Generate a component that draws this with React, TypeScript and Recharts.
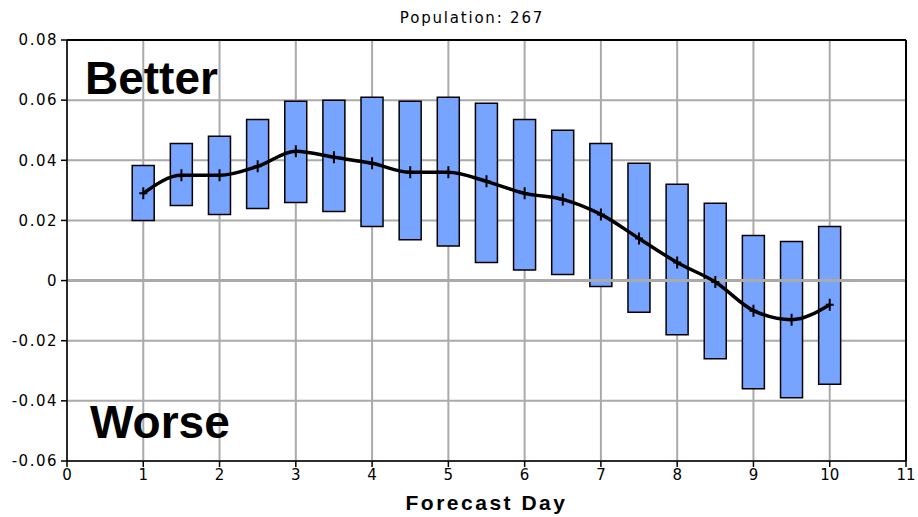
import React from 'react';
import {
  ComposedChart,
  Bar,
  Line,
  XAxis,
  YAxis,
  CartesianGrid,
  ReferenceLine,
  Customized,
} from 'recharts';

const days = [1, 1.5, 2, 2.5, 3, 3.5, 4, 4.5, 5, 5.5, 6, 6.5, 7, 7.5, 8, 8.5, 9, 9.5, 10];
const lows = [0.02, 0.025, 0.022, 0.024, 0.026, 0.023, 0.018, 0.0136, 0.0115, 0.006, 0.0035, 0.002, -0.002, -0.0105, -0.018, -0.026, -0.036, -0.039, -0.0345];
const highs = [0.0383, 0.0456, 0.048, 0.0536, 0.0596, 0.06, 0.061, 0.0596, 0.061, 0.059, 0.0536, 0.05, 0.0456, 0.039, 0.032, 0.0257, 0.015, 0.013, 0.018];
const means = [0.029, 0.035, 0.035, 0.038, 0.043, 0.041, 0.039, 0.036, 0.036, 0.033, 0.029, 0.027, 0.022, 0.014, 0.006, -0.0005, -0.01, -0.013, -0.008];

const xTicks = [0, 1, 2, 3, 4, 5, 6, 7, 8, 9, 10, 11];
const yTicks = [-0.06, -0.04, -0.02, 0, 0.02, 0.04, 0.06, 0.08];

const data = days.map((d, i) => ({
  day: d,
  range: [lows[i], highs[i]],
  mean: means[i],
}));

const font = '"Liberation Sans", Arial, sans-serif';
const tickFont = '"DejaVu Sans", sans-serif';

function CrossDot(props: any) {
  const { cx, cy } = props;
  if (cx == null || cy == null) return null;
  return (
    <path
      d={`M${cx - 4},${cy} H${cx + 4} M${cx},${cy - 6} V${cy + 6}`}
      stroke="#000"
      strokeWidth={2}
    />
  );
}

function Labels() {
  return (
    <g>
      <text x={472} y={23} textAnchor="middle" fontSize={15} fontFamily={tickFont} letterSpacing={1.8} fill="#000">
        Population: 267
      </text>
      <text x={85} y={94} fontSize={46} fontWeight="bold" fontFamily={font} fill="#000">
        Better
      </text>
      <text x={90} y={438} fontSize={46} fontWeight="bold" fontFamily={font} fill="#000">
        Worse
      </text>
    </g>
  );
}

export default function App() {
  return (
    <div style={{ position: 'absolute', left: 0, top: 0 }}>
      <ComposedChart
        width={918}
        height={517}
        data={data}
        margin={{ top: 40, right: 12, bottom: 26, left: 7 }}
      >
        <CartesianGrid stroke="#aaa" strokeWidth={2} />
        <XAxis
          dataKey="day"
          type="number"
          domain={[0, 11]}
          ticks={xTicks}
          interval={0}
          height={30}
          stroke="#000"
          strokeWidth={1.5}
          tickSize={6}
          tick={{ fill: '#000', fontSize: 15, fontFamily: tickFont }}
          label={{
            value: 'Forecast Day',
            position: 'insideBottom',
            offset: -19,
            style: { fontWeight: 'bold', fontSize: 21, fill: '#000', fontFamily: font, letterSpacing: 2.5 },
          }}
        />
        <YAxis
          type="number"
          domain={[-0.06, 0.08]}
          ticks={yTicks}
          interval={0}
          width={60}
          stroke="#000"
          strokeWidth={1.5}
          tickSize={6}
          tickMargin={3}
          tickFormatter={(v: number) => (v === 0 ? '0' : v.toFixed(2))}
          tick={{ fill: '#000', fontSize: 15, fontFamily: tickFont, letterSpacing: 1.5 }}
        />
        <ReferenceLine y={0} stroke="#aaa" strokeWidth={3} />
        <ReferenceLine y={0.08} stroke="#000" strokeWidth={2} />
        <ReferenceLine x={11} stroke="#000" strokeWidth={2} />
        <Bar
          dataKey="range"
          barSize={22}
          fill="#77a4ff"
          stroke="#000"
          strokeWidth={1.5}
          isAnimationActive={false}
        />
        <Line
          dataKey="mean"
          type="monotone"
          stroke="#000"
          strokeWidth={3.5}
          dot={<CrossDot />}
          activeDot={false}
          isAnimationActive={false}
        />
        <Customized component={Labels} />
      </ComposedChart>
    </div>
  );
}
